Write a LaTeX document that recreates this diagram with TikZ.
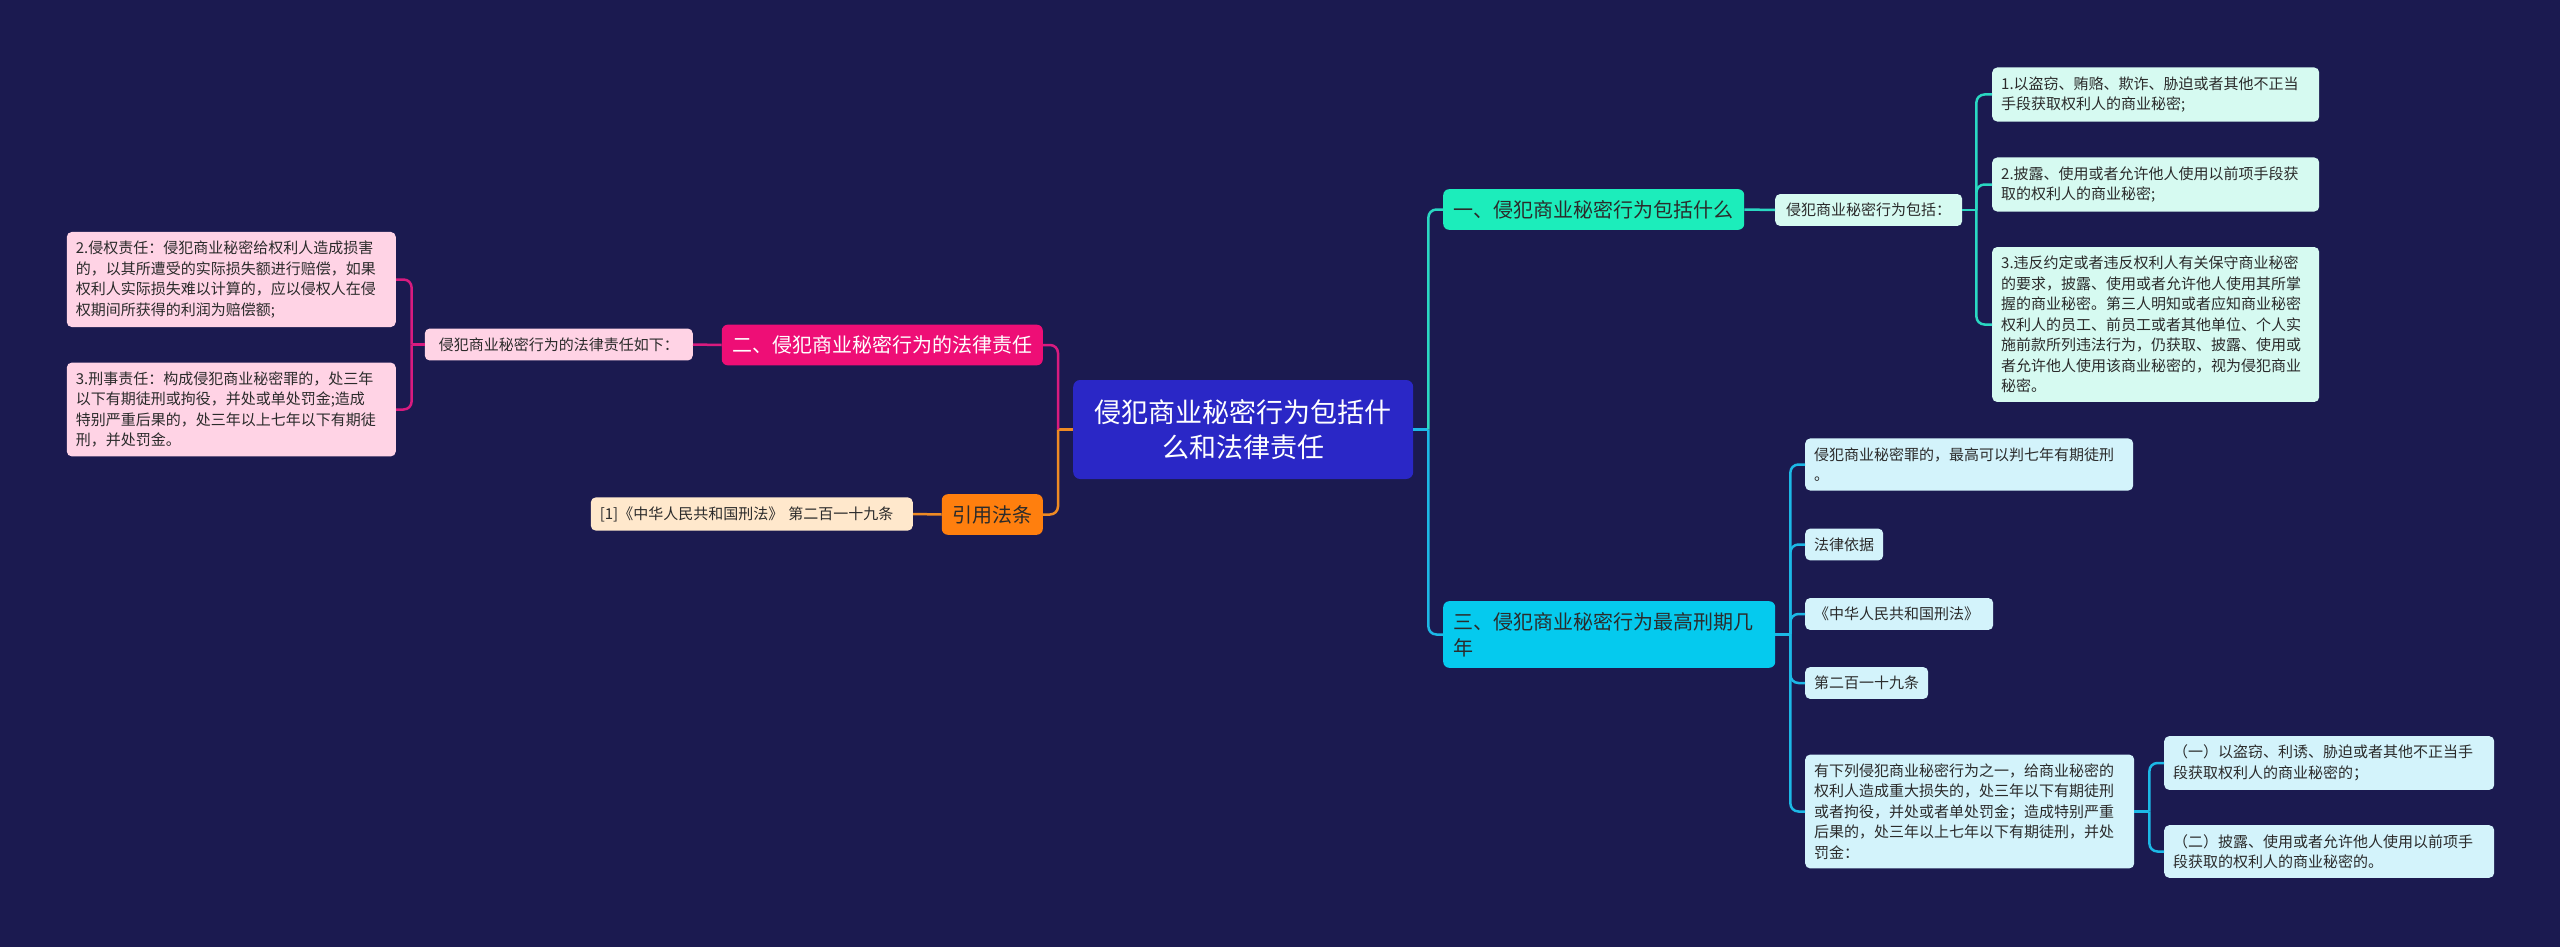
\documentclass[tikz,border=0pt]{standalone}
\usepackage{fontspec}
\setmainfont{Noto Sans CJK SC}
\definecolor{bgnavy}{HTML}{1B1A50}
\definecolor{rootblue}{HTML}{2A27C6}
\definecolor{textdark}{HTML}{2B2B2B}
\definecolor{tealfill}{HTML}{1CEDBB}
\definecolor{tealline}{HTML}{2AD8C2}
\definecolor{tealleaf}{HTML}{D6FAF1}
\definecolor{cyanfill}{HTML}{05CAEE}
\definecolor{cyanline}{HTML}{1CB8E6}
\definecolor{cyanleaf}{HTML}{D3F3FB}
\definecolor{magfill}{HTML}{EE0E76}
\definecolor{magline}{HTML}{D81B7F}
\definecolor{pinkleaf}{HTML}{FFD3E5}
\definecolor{orangefill}{HTML}{FF7F0E}
\definecolor{orangeline}{HTML}{EE8A24}
\definecolor{peachleaf}{HTML}{FFE8CC}
\usetikzlibrary{calc}
\tikzstyle{box}=[rounded corners=5pt, inner xsep=9pt, inner ysep=9pt, anchor=west, text=textdark]
\tikzstyle{leaf}=[box, font=\fontsize{15}{20.5}\selectfont, align=left]
\tikzstyle{topic}=[box, font=\fontsize{20}{26}\selectfont, inner xsep=10.5pt, inner ysep=11pt, rounded corners=6pt]
\tikzstyle{link}=[line width=2.5pt, rounded corners=8pt]

\begin{document}
\begin{tikzpicture}[x=1pt, y=-1pt]
    \fill[bgnavy] (0,0) rectangle (2560,947);
    \useasboundingbox (0,0) rectangle (2560,947);
    % centre
    \node[box, fill=rootblue, text=white, font=\fontsize{27}{35}\selectfont, align=center,
          minimum width=340, minimum height=99, rounded corners=7pt] (root) at (1073,429.5)
          {侵犯商业秘密行为包括什\\么和法律责任};
    % right: first topic
    \node[topic, fill=tealfill] (one) at (1443,209.5) {一、侵犯商业秘密行为包括什么};
    \node[leaf, fill=tealleaf, minimum width=187] (incl) at (1775,210) {侵犯商业秘密行为包括：};
    \node[leaf, fill=tealleaf, text width=309] (r1) at (1992,94.5)
        {1.以盗窃、贿赂、欺诈、胁迫或者其他不正当\\手段获取权利人的商业秘密;};
    \node[leaf, fill=tealleaf, text width=309] (r2) at (1992,184.5)
        {2.披露、使用或者允许他人使用以前项手段获\\取的权利人的商业秘密;};
    \node[leaf, fill=tealleaf, text width=309] (r3) at (1992,324.5)
        {3.违反约定或者违反权利人有关保守商业秘密\\的要求，披露、使用或者允许他人使用其所掌\\握的商业秘密。第三人明知或者应知商业秘密\\权利人的员工、前员工或者其他单位、个人实\\施前款所列违法行为，仍获取、披露、使用或\\者允许他人使用该商业秘密的，视为侵犯商业\\秘密。};
    % right: third topic
    \node[topic, fill=cyanfill, text width=311, align=left] (three) at (1443,634.5)
        {三、侵犯商业秘密行为最高刑期几\\年};
    \node[leaf, fill=cyanleaf, text width=310] (c1) at (1805,464.5)
        {侵犯商业秘密罪的，最高可以判七年有期徒刑\\。};
    \node[leaf, fill=cyanleaf] (c2) at (1805,544.5) {法律依据};
    \node[leaf, fill=cyanleaf, text width=170] (c3) at (1805,614) {《中华人民共和国刑法》};
    \node[leaf, fill=cyanleaf] (c4) at (1805,683) {第二百一十九条};
    \node[leaf, fill=cyanleaf, text width=311] (c5) at (1805,811.5)
        {有下列侵犯商业秘密行为之一，给商业秘密的\\权利人造成重大损失的，处三年以下有期徒刑\\或者拘役，并处或者单处罚金；造成特别严重\\后果的，处三年以上七年以下有期徒刑，并处\\罚金：};
    \node[leaf, fill=cyanleaf, text width=312] (s1) at (2164,763)
        {（一）以盗窃、利诱、胁迫或者其他不正当手\\段获取权利人的商业秘密的；};
    \node[leaf, fill=cyanleaf, text width=312] (s2) at (2164,851.5)
        {（二）披露、使用或者允许他人使用以前项手\\段获取的权利人的商业秘密的。};
    % left: second topic
    \node[topic, fill=magfill, text=white, anchor=east] (two) at (1043,345) {二、侵犯商业秘密行为的法律责任};
    \node[leaf, fill=pinkleaf, anchor=east, minimum width=268] (duty) at (693,344.5) {侵犯商业秘密行为的法律责任如下：};
    \node[leaf, fill=pinkleaf, anchor=east, text width=311] (l2) at (396,279.5)
        {2.侵权责任：侵犯商业秘密给权利人造成损害\\的，以其所遭受的实际损失额进行赔偿，如果\\权利人实际损失难以计算的，应以侵权人在侵\\权期间所获得的利润为赔偿额;};
    \node[leaf, fill=pinkleaf, anchor=east, text width=311] (l3) at (396,409.5)
        {3.刑事责任：构成侵犯商业秘密罪的，处三年\\以下有期徒刑或拘役，并处或单处罚金;造成\\特别严重后果的，处三年以上七年以下有期徒\\刑，并处罚金。};
    % left: cited law
    \node[topic, fill=orangefill, anchor=east] (cite) at (1043,514.5) {引用法条};
    \node[leaf, fill=peachleaf, anchor=east, text width=304] (ref) at (913,514)
        {[1]《中华人民共和国刑法》 第二百一十九条};
    % connectors right
    \draw[link, cyanline] (root.east) -- ++(15,0) coordinate (jr);
    \draw[link, tealline] (jr) |- (one.west);
    \draw[link, cyanline] (jr) |- (three.west);
    \draw[link, tealline] (one.east) -- (incl.west);
    \draw[link, tealline] (incl.east) -- ++(14,0) coordinate (ji);
    \foreach \n in {r1,r2,r3}
        \draw[link, tealline] (ji) |- (\n.west);
    \draw[link, cyanline] (three.east) -- ++(15,0) coordinate (jt);
    \foreach \n in {c1,c2,c3,c4,c5}
        \draw[link, cyanline] (jt) |- (\n.west);
    \draw[link, cyanline] (c5.east) -- ++(15,0) coordinate (jc);
    \foreach \n in {s1,s2}
        \draw[link, cyanline] (jc) |- (\n.west);
    % connectors left
    \draw[link, orangeline] (root.west) -- ++(-15,0) coordinate (jm);
    \draw[link, magline] (jm) |- (two.east);
    \draw[link, orangeline] (jm) |- (cite.east);
    \draw[link, magline] (two.west) -- (duty.east);
    \draw[link, magline] (duty.west) -- ++(-13,0) coordinate (jd);
    \foreach \n in {l2,l3}
        \draw[link, magline] (jd) |- (\n.east);
    \draw[link, orangeline] (cite.west) -- (ref.east);
\end{tikzpicture}
\end{document}
